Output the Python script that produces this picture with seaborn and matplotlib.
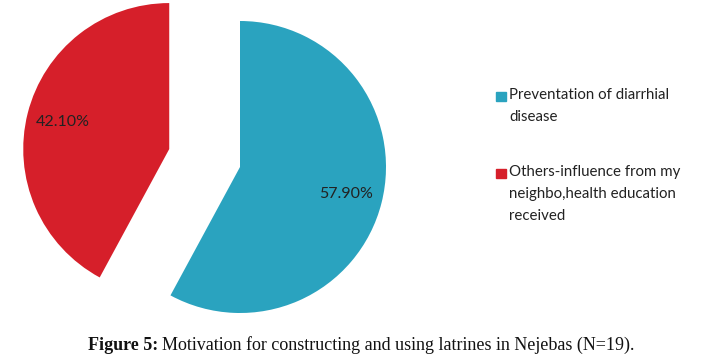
import matplotlib
matplotlib.use("Agg")
import matplotlib.pyplot as plt
from matplotlib.patches import Rectangle
import seaborn as sns

# data
labels = ["Preventation of diarrhial\ndisease",
          "Others-influence from my\nneighbo,health education\nreceived"]
shares = [57.9, 42.1]
colors = ["#2aa3bf", "#d61f2a"]
caption_bold = "Figure 5:"
caption_rest = "Motivation for constructing and using latrines in Nejebas (N=19)."

sns.set_theme(style="white")
plt.rcParams["font.family"] = ["Lato", "DejaVu Sans"]

W, H = 716, 362
fig = plt.figure(figsize=(W / 100, H / 100), dpi=100)

# pie axes: center at (240,167) px, radius ~146 px
r_px = 146
ax = fig.add_axes([0, 28 / H, 480 / W, 334 / H])
wedges, texts, autotexts = ax.pie(
    shares, colors=colors, startangle=90, counterclock=False,
    explode=[0, 0.5], autopct="%1.2f%%", pctdistance=0.75,
    textprops={"fontsize": 11.5, "color": "#222222"},
    wedgeprops={"linewidth": 0})
ax.set_xlim(-240 / r_px, 240 / r_px)
ax.set_ylim(-167 / r_px, 167 / r_px)
ax.set_aspect("auto")
ax.axis("off")

# legend on the right, square aligned with first line of each label
first_line_y = [96, 173]
for lab, col, y in zip(labels, colors, first_line_y):
    fig.patches.append(Rectangle((496 / W, 1 - (y + 5) / H), 10 / W, 9 / H,
                                 transform=fig.transFigure, color=col, figure=fig))
    fig.text(509 / W, 1 - (y - 8) / H, lab, fontsize=10.8, color="#222222",
             ha="left", va="top", linespacing=1.75)

# caption with bold prefix
t1 = fig.text(88 / W, 1 - 345 / H, caption_bold, fontsize=13, fontweight="bold",
              family="Liberation Serif", ha="left", va="center", color="#111111")
fig.canvas.draw()
bb = t1.get_window_extent()
fig.text((bb.x1 + 4) / W, 1 - 345 / H, caption_rest, fontsize=13,
         family="Liberation Serif", ha="left", va="center", color="#111111")

fig.savefig("out.png", dpi=100)
